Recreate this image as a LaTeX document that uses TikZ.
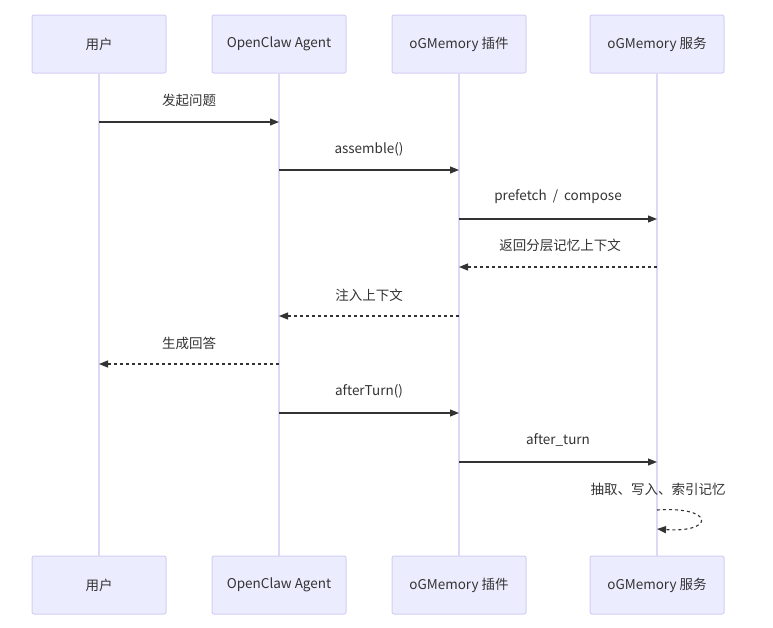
\documentclass[tikz,border=0pt]{standalone}
\usepackage{fontspec}
\setmainfont{Noto Sans CJK SC}
\usetikzlibrary{arrows.meta}
\definecolor{actfill}{HTML}{ECECFF}
\definecolor{actline}{HTML}{D4CEF3}
\definecolor{lifeline}{HTML}{DDD8F6}
\definecolor{ink}{HTML}{333333}
\tikzset{
  actor/.style={draw=actline, line width=1pt, fill=actfill, rounded corners=2pt,
    minimum width=134pt, minimum height=58pt, inner sep=0pt, text=ink, font=\fontsize{13.5}{16}\selectfont},
  life/.style={draw=lifeline, line width=2pt},
  msg/.style={draw=ink, line width=1.1pt, -{Triangle[length=9pt,width=7pt]}},
  reply/.style={msg, dash pattern=on 3pt off 3pt},
  lbl/.style={text=ink, font=\fontsize{13.5}{16}\selectfont, inner sep=0pt}
}
\begin{document}
\begin{tikzpicture}[x=1pt,y=-1pt]
\useasboundingbox[fill=white] (0,0) rectangle (773,627);
% actors
\node[actor] (ta) at (99,44) {用户};
\node[actor] (tb) at (279,44) {OpenClaw Agent};
\node[actor] (tc) at (459,44) {oGMemory 插件};
\node[actor] (td) at (657,44) {oGMemory 服务};
\node[actor] (ba) at (99,585) {用户};
\node[actor] (bb) at (279,585) {OpenClaw Agent};
\node[actor] (bc) at (459,585) {oGMemory 插件};
\node[actor] (bd) at (657,585) {oGMemory 服务};
% lifelines
\draw[life] (ta.south) -- (ba.north);
\draw[life] (tb.south) -- (bb.north);
\draw[life] (tc.south) -- (bc.north);
\draw[life] (td.south) -- (bd.north);
% coordinates on lifelines
\foreach \n/\x in {a/99,b/279,c/459,d/657}{
  \foreach \i/\y in {1/122,2/170,3/219,4/267,5/316,6/364,7/413,8/462}{
    \coordinate (\n\i) at (\x,\y);
  }
}
\coordinate (d9) at (657,510);
\coordinate (d10) at (657,529);
% messages
\draw[msg] (a1) -- (b1);
\node[lbl] (l1) at (189,100) {发起问题};
\draw[msg] (b2) -- (c2);
\node[lbl] (l2) at (369,149) {assemble()};
\draw[msg] (c3) -- (d3);
\node[lbl] (l3) at (558,197) {prefetch\ \ /\ \ compose};
\draw[reply] (d4) -- (c4);
\node[lbl] (l4) at (560,245) {返回分层记忆上下文};
\draw[reply] (c5) -- (b5);
\node[lbl] (l5) at (369,295) {注入上下文};
\draw[reply] (b6) -- (a6);
\node[lbl] (l6) at (189,343) {生成回答};
\draw[msg] (b7) -- (c7);
\node[lbl] (l7) at (369,391) {afterTurn()};
\draw[msg] (c8) -- (d8);
\node[lbl] (l8) at (558,440) {after\_turn};
\draw[reply] (d9) .. controls (715,506) and (715,533) .. (d10);
\node[lbl] (l9) at (658,489) {抽取、写入、索引记忆};
\end{tikzpicture}
\end{document}
